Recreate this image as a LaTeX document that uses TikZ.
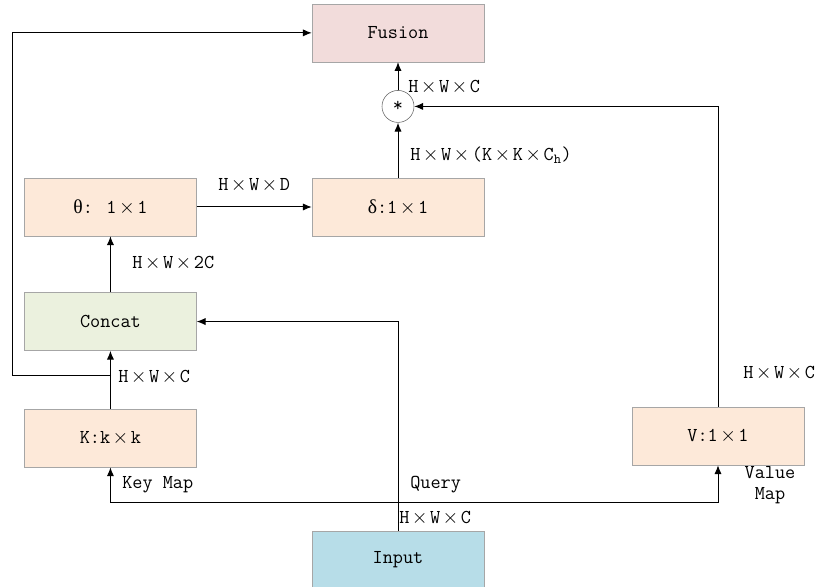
\documentclass[tikz,border=0pt]{standalone}
\usepackage{fontspec}
\newfontfamily\greekfont{Liberation Serif}
\usetikzlibrary{arrows.meta, positioning}

\definecolor{fusionfill}{HTML}{F2DCDB}
\definecolor{convfill}{HTML}{FDE9D9}
\definecolor{concatfill}{HTML}{EBF1DE}
\definecolor{inputfill}{HTML}{B7DDE8}
\definecolor{boxline}{HTML}{A6A6A6}

\newcommand{\mul}{\makebox[1.05em]{$\times$}}

\begin{document}
\begin{tikzpicture}[
    font=\ttfamily\fontsize{14}{17}\selectfont,
    box/.style={draw=boxline, minimum width=4.3cm, minimum height=1.45cm, align=center, inner sep=2pt},
    lbl/.style={anchor=west, inner sep=0pt},
    arr/.style={-{Latex[length=2.2mm, width=1.8mm]}, line width=0.7pt}
]
  \useasboundingbox (0,0) rectangle (20.5,14.675);

  % Middle column
  \node[box, fill=convfill] (delta) at (9.95,9.5) {{\greekfont δ}:1\mul1};
  \node[circle, draw=black!60, minimum size=0.8cm, inner sep=0pt, above=1.375cm of delta] (mult) {*};
  \node[box, fill=fusionfill, above=0.7cm of mult] (fusion) {Fusion};
  \node[box, fill=inputfill] (input) at (9.95,0.675) {Input};

  % Left column
  \node[box, fill=convfill, left=2.875cm of delta] (theta) {{\greekfont θ}: 1\mul1};
  \node[box, fill=concatfill, below=1.4cm of theta] (concat) {Concat};
  \node[box, fill=convfill, below=1.45cm of concat] (key) {K:k\mul k};

  % Right column
  \node[box, fill=convfill] (value) at (17.95,3.775) {V:1\mul1};

  % Branch points
  \coordinate (bus) at (9.95,2.125);
  \coordinate (split) at (2.775,5.3);
  \coordinate (loop) at (0.3,5.3);

  % Connectors
  \draw[arr] (input.north) |- (concat.east);
  \draw[arr] (bus) -| (key.south);
  \draw[arr] (bus) -| (value.south);
  \draw[arr] (key.north) -- (concat.south);
  \draw[arr] (split) -- (loop) |- (fusion.west);
  \draw[arr] (concat.north) -- (theta.south);
  \draw[arr] (theta.east) -- (delta.west);
  \draw[arr] (delta.north) -- (mult.south);
  \draw[arr] (mult.north) -- (fusion.south);
  \draw[arr] (value.north) |- (mult.east);

  % Shape labels
  \node[lbl] (lkey) at (2.95,5.25) {H\mul W\mul C};
  \node[lbl] (lconcat) at (3.3,8.1) {H\mul W\mul 2C};
  \node[lbl] (ltheta) at (5.45,10.05) {H\mul W\mul D};
  \node[lbl] (ldelta) at (10.25,10.8) {H\mul W\mul (K\mul K\mul C\textsubscript{h})};
  \node[lbl] (lmult) at (10.2,12.5) {H\mul W\mul C};
  \node[lbl] (lvalue) at (18.575,5.35) {H\mul W\mul C};
  \node[lbl] (linput) at (9.975,1.725) {H\mul W\mul C};

  % Branch labels
  \node[lbl] (keymap) at (3.05,2.55) {Key Map};
  \node[lbl] (query) at (10.25,2.55) {Query};
  \node[align=center, inner sep=0pt, font=\ttfamily\fontsize{14}{15}\selectfont] (valmap) at (19.25,2.55) {Value\\Map};
\end{tikzpicture}
\end{document}
